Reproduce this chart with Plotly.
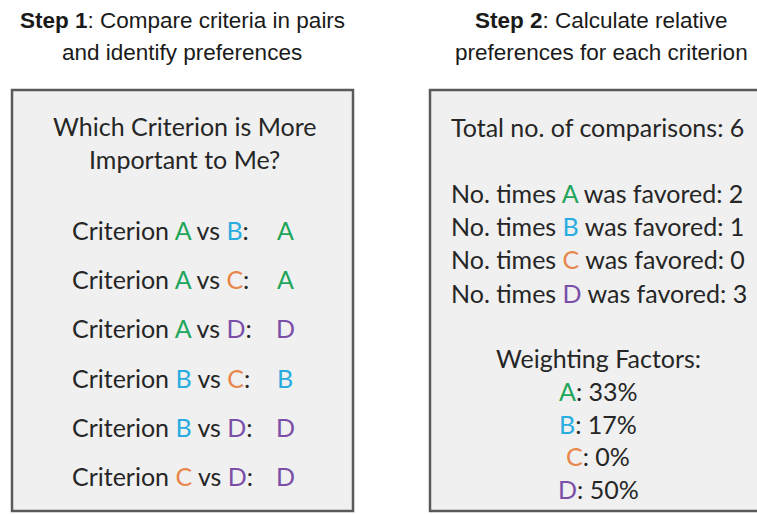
import plotly.graph_objects as go

# ---- data ----
criteria = ["A", "B", "C", "D"]
criterion_colors = ["#1fa55b", "#29ade0", "#e8864c", "#7b4fa7"]
pair_first = ["A", "A", "A", "B", "B", "C"]
pair_second = ["B", "C", "D", "C", "D", "D"]
pair_winner = ["A", "A", "D", "B", "D", "D"]
total_comparisons = 6
times_favored = [2, 1, 0, 3]
weighting_pct = [33, 17, 0, 50]

step1_title = ["<b>Step 1</b>: Compare criteria in pairs", "and identify preferences"]
step2_title = ["<b>Step 2</b>: Calculate relative", "preferences for each criterion"]
question = ["Which Criterion is More", "Important to Me?"]

W, H = 757, 514
TXT = "#262626"
BODY_FONT = "Lato, Carlito, 'Open Sans', sans-serif"
TITLE_FONT = "'Liberation Sans Narrow', 'Arial Narrow', 'Liberation Sans', Arial, sans-serif"
col = dict(zip(criteria, criterion_colors))


def c(letter):
    return f"<span style='color:{col[letter]}'>{letter}</span>"


fig = go.Figure()
fig.add_trace(go.Scatter(x=[], y=[], showlegend=False))

annotations = []


def add(text, x, y, size=25, anchor="center", font=BODY_FONT, color=TXT):
    annotations.append(dict(text=text, x=x, y=y, xref="x", yref="y", showarrow=False,
                            xanchor=anchor, yanchor="middle",
                            font=dict(family=font, size=size, color=color)))


# titles
for i, line in enumerate(step1_title):
    add(line, 182, 20 + i * 32, size=22.5, font=TITLE_FONT, color="#1a1a1a")
for i, line in enumerate(step2_title):
    add(line, 601, 20 + i * 32, size=22.5, font=TITLE_FONT, color="#1a1a1a")

# left box content
for i, line in enumerate(question):
    add(line, 184, 126 + i * 33)
for i, (a, b, w) in enumerate(zip(pair_first, pair_second, pair_winner)):
    y = 230 + i * 49.2
    add(f"Criterion {c(a)} vs {c(b)}:", 70, y, anchor="left")
    add(c(w), 285, y)

# right box content
add(f"Total no. of comparisons: {total_comparisons}", 449, 127, anchor="left")
for i, (k, n) in enumerate(zip(criteria, times_favored)):
    add(f"No. times {c(k)} was favored: {n}", 449, 193 + i * 33.2, anchor="left")
add("Weighting Factors:", 598, 358)
for i, (k, p) in enumerate(zip(criteria, weighting_pct)):
    add(f"{c(k)}: {p}%", 598, 391 + i * 32.5)

box_style = dict(type="rect", xref="x", yref="y", fillcolor="#f0f0f0",
                 line=dict(color="#5a5a5a", width=2.5), layer="below")
shapes = [
    dict(box_style, x0=12, x1=353, y0=90, y1=511),
    dict(box_style, x0=430, x1=770, y0=90, y1=511),
]

fig.update_layout(
    width=W, height=H,
    margin=dict(l=0, r=0, t=0, b=0),
    paper_bgcolor="white", plot_bgcolor="white",
    xaxis=dict(range=[0, W], visible=False, fixedrange=True),
    yaxis=dict(range=[H, 0], visible=False, fixedrange=True),
    annotations=annotations, shapes=shapes,
    showlegend=False,
)

fig.write_html("out.html", config={"displayModeBar": False},
               post_script="document.body.style.margin='0';document.body.style.overflow='hidden';")
